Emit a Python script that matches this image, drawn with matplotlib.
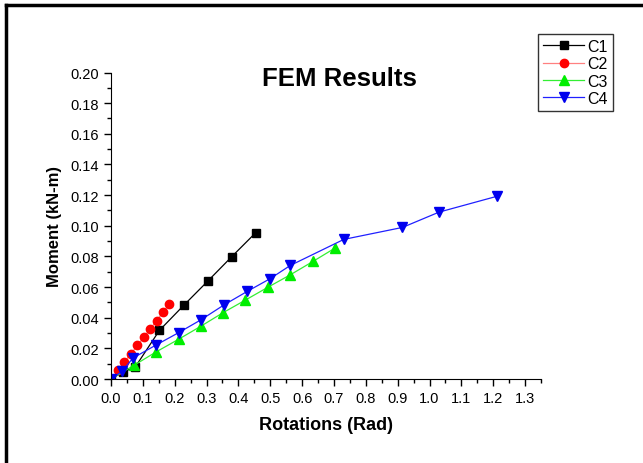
import matplotlib
matplotlib.use("Agg")
import matplotlib.pyplot as plt
from matplotlib.lines import Line2D
from matplotlib.ticker import MultipleLocator, FormatStrFormatter

plt.rcParams['font.family'] = ['Liberation Sans', 'DejaVu Sans']

# rotations (rad) / moments (kN-m)
c1_x = [0.0, 0.038, 0.076, 0.152, 0.228, 0.303, 0.379, 0.454]
c1_y = [0.0, 0.0046, 0.0078, 0.0317, 0.048, 0.0637, 0.0798, 0.0954]

c2_x = [0.021, 0.042, 0.063, 0.083, 0.103, 0.123, 0.143, 0.163, 0.183]
c2_y = [0.0057, 0.0111, 0.0165, 0.022, 0.0272, 0.0326, 0.038, 0.0435, 0.0489]

c3_x = [0.0, 0.072, 0.141, 0.212, 0.281, 0.352, 0.422, 0.492, 0.563, 0.634, 0.703]
c3_y = [0.0, 0.0089, 0.0176, 0.0259, 0.0343, 0.0433, 0.0515, 0.0598, 0.068, 0.0767, 0.0854]

c4_x = [0.0, 0.035, 0.069, 0.140, 0.212, 0.283, 0.356, 0.428, 0.499, 0.563, 0.731, 0.915, 1.030, 1.213]
c4_y = [0.0, 0.005, 0.0137, 0.022, 0.0302, 0.0387, 0.0485, 0.0572, 0.0654, 0.0741, 0.0911, 0.0989, 0.1089, 0.1193]

fig = plt.figure(figsize=(6.43, 4.64), dpi=100)
ax = fig.add_axes([111/643, 1-380/464, (541-111)/643, (380-73.5)/464])

ax.plot(c1_x, c1_y, color='black', lw=0.9, marker='s', ms=5.5, label='C1')
ax.plot(c2_x, c2_y, color='#ff8080', lw=0.9, marker='o', ms=6,
        mfc='red', mec='red', label='C2')
ax.plot(c3_x, c3_y, color='#33ee33', lw=0.9, marker='^', ms=6.5,
        mfc='#00ee00', mec='#00ee00', label='C3')
ax.plot(c4_x, c4_y, color='#2020ff', lw=0.9, marker='v', ms=6.5,
        mfc='#0000ee', mec='#0000ee', label='C4')

ax.set_xlim(0, 1.35)
ax.set_ylim(0, 0.2)
ax.xaxis.set_major_locator(MultipleLocator(0.1))
ax.xaxis.set_minor_locator(MultipleLocator(0.05))
ax.yaxis.set_major_locator(MultipleLocator(0.02))
ax.yaxis.set_minor_locator(MultipleLocator(0.01))
ax.xaxis.set_major_formatter(FormatStrFormatter('%.1f'))
ax.yaxis.set_major_formatter(FormatStrFormatter('%.2f'))
ax.tick_params(which='major', direction='out', length=5, width=1, labelsize=10.5)
ax.tick_params(which='minor', direction='out', length=3, width=1)
ax.spines['top'].set_visible(False)
ax.spines['right'].set_visible(False)

ax.set_xlabel('Rotations (Rad)', fontsize=13, fontweight='bold', labelpad=8)
ax.set_ylabel('Moment (kN-m)', fontsize=12, fontweight='bold', labelpad=6)
fig.text(339/643, 1-79/464, 'FEM Results', fontsize=18.5, fontweight='bold',
         ha='center', va='center')

leg = fig.legend(loc='upper left', bbox_to_anchor=(538/643, 1-35/464),
                 fontsize=11.5, fancybox=False, edgecolor='black',
                 handlelength=2.6, borderpad=0.3, labelspacing=0.15,
                 handletextpad=0.2, borderaxespad=0)
leg.get_frame().set_linewidth(1)

# page border (left and top only)
fig.add_artist(Line2D([6/643, 6/643], [0, 1-6/464], color='black', lw=2.5,
                      transform=fig.transFigure))
fig.add_artist(Line2D([6/643, 1], [1-6/464, 1-6/464], color='black', lw=2.5,
                      transform=fig.transFigure))

fig.savefig('out.png', dpi=100)
